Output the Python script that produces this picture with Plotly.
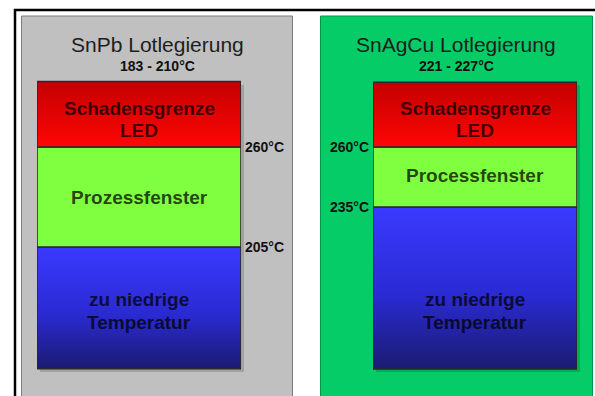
import plotly.graph_objects as go

# ---- data -------------------------------------------------------------
panel_titles = ["SnPb Lotlegierung", "SnAgCu Lotlegierung"]
melting_ranges = ["183 - 210°C", "221 - 227°C"]

# temperature bands per alloy, listed bottom to top
band_names_snpb = ["zu niedrige\nTemperatur", "Prozessfenster", "Schadensgrenze\nLED"]
band_names_snagcu = ["zu niedrige\nTemperatur", "Processfenster", "Schadensgrenze\nLED"]
band_edges_snpb = [138, 205, 260, 296]      # °C
band_edges_snagcu = [167.5, 235, 260, 287]  # °C
labeled_edges_snpb = [205, 260]
labeled_edges_snagcu = [235, 260]

# ---- layout / style ---------------------------------------------------
W, H = 595, 396
FONT = "Liberation Sans, Arial, sans-serif"


def px(x):
    return x / W


def py(y):
    return 1 - y / H


band_gradients = [
    [[0, "#1b1b72"], [0.45, "#2a2ad2"], [1, "#3a3aff"]],   # too cold
    [[0, "#80ff40"], [1, "#80ff40"]],                       # process window
    [[0, "#ff0606"], [1, "#c40000"]],                       # damage limit
]
label_color = "rgba(0,0,0,0.74)"

panels = [
    dict(names=band_names_snpb, edges=band_edges_snpb, marks=labeled_edges_snpb,
         xdom=(37, 241), yrange=(123.05, 340.85), bg="#c0c0c0", border="#7c7c7c",
         box=(21.5, 292.5), cx=157, label_shift=[-3, 0, -5], mark_side="right"),
    dict(names=band_names_snagcu, edges=band_edges_snagcu, marks=labeled_edges_snagcu,
         xdom=(373, 577), yrange=(156.25, 321.25), bg="#05cc66", border="#00964a",
         box=(320.5, 592.5), cx=456, label_shift=[-23, 2, -5], mark_side="left"),
]

fig = go.Figure()
shapes = []
annotations = []

# page frame
shapes.append(dict(type="line", xref="paper", yref="paper", x0=px(14), x1=1.0,
                   y0=py(10), y1=py(10), line=dict(color="black", width=2.5)))
shapes.append(dict(type="line", xref="paper", yref="paper", x0=px(15), x1=px(15),
                   y0=py(9), y1=0, line=dict(color="black", width=2.5)))

for i, p in enumerate(panels):
    xa = "x" if i == 0 else f"x{i + 1}"
    ya = "y" if i == 0 else f"y{i + 1}"
    xa_key = "xaxis" if i == 0 else f"xaxis{i + 1}"
    ya_key = "yaxis" if i == 0 else f"yaxis{i + 1}"

    # panel background
    shapes.append(dict(type="rect", xref="paper", yref="paper", layer="below",
                       x0=px(p["box"][0]), x1=px(p["box"][1]), y0=py(400), y1=py(16),
                       fillcolor=p["bg"], line=dict(color=p["border"], width=1)))
    # soft drop shadow behind the stacked bar
    shapes.append(dict(type="rect", xref="paper", yref="paper", layer="below",
                       x0=px(p["xdom"][0] + 3), x1=px(p["xdom"][1] + 3),
                       y0=py(372), y1=py(85),
                       fillcolor="rgba(0,0,0,0.16)", line=dict(width=0)))

    # titles
    annotations.append(dict(xref="paper", yref="paper", x=px(p["cx"]), y=py(44),
                            text=panel_titles[i], showarrow=False,
                            font=dict(family=FONT, size=21, color="#1e1e1e"),
                            xanchor="center", yanchor="middle"))
    annotations.append(dict(xref="paper", yref="paper", x=px(p["cx"]), y=py(66),
                            text=f"<b>{melting_ranges[i]}</b>", showarrow=False,
                            font=dict(family=FONT, size=14, color="#111111"),
                            xanchor="center", yanchor="middle"))

    edges = p["edges"]
    for k, name in enumerate(p["names"]):
        lo, hi = edges[k], edges[k + 1]
        fig.add_trace(go.Scatter(
            x=[0, 1, 1, 0, 0], y=[lo, lo, hi, hi, lo],
            xaxis=xa, yaxis=ya, mode="lines", fill="toself",
            fillgradient=dict(type="vertical", colorscale=band_gradients[k]),
            line=dict(color="#2a2a2a", width=1.6),
            hoverinfo="skip", showlegend=False,
        ))
        lines = name.split("\n")
        mid = (lo + hi) / 2
        n = len(lines)
        for j, line in enumerate(lines):
            offset = (n - 1) / 2 * 22.4 - j * 22.4
            annotations.append(dict(xref=xa, yref=ya, x=0.5, y=mid,
                                    yshift=offset + p["label_shift"][k],
                                    text=f"<b>{line}</b>", showarrow=False,
                                    font=dict(family=FONT, size=19, color=label_color),
                                    xanchor="center", yanchor="middle"))

    # temperature marks at the band boundaries
    for t in p["marks"]:
        if p["mark_side"] == "right":
            annotations.append(dict(xref=xa, yref=ya, x=1, y=t, xshift=2,
                                    text=f"<b>{t}°C</b>", showarrow=False,
                                    font=dict(family=FONT, size=14, color="#111111"),
                                    xanchor="left", yanchor="middle"))
        else:
            annotations.append(dict(xref=xa, yref=ya, x=0, y=t, xshift=-2,
                                    text=f"<b>{t}°C</b>", showarrow=False,
                                    font=dict(family=FONT, size=14, color="#111111"),
                                    xanchor="right", yanchor="middle"))

    fig.layout[xa_key] = dict(domain=[px(p["xdom"][0]), px(p["xdom"][1])],
                              range=[0, 1], visible=False, fixedrange=True,
                              anchor=ya)
    fig.layout[ya_key] = dict(domain=[0, 1], range=list(p["yrange"]),
                              visible=False, fixedrange=True, anchor=xa)

fig.update_layout(
    width=W, height=H,
    margin=dict(l=0, r=0, t=0, b=0),
    paper_bgcolor="white", plot_bgcolor="rgba(0,0,0,0)",
    shapes=shapes, annotations=annotations,
    showlegend=False,
)

fig.write_html("out.html", config={"displayModeBar": False})
